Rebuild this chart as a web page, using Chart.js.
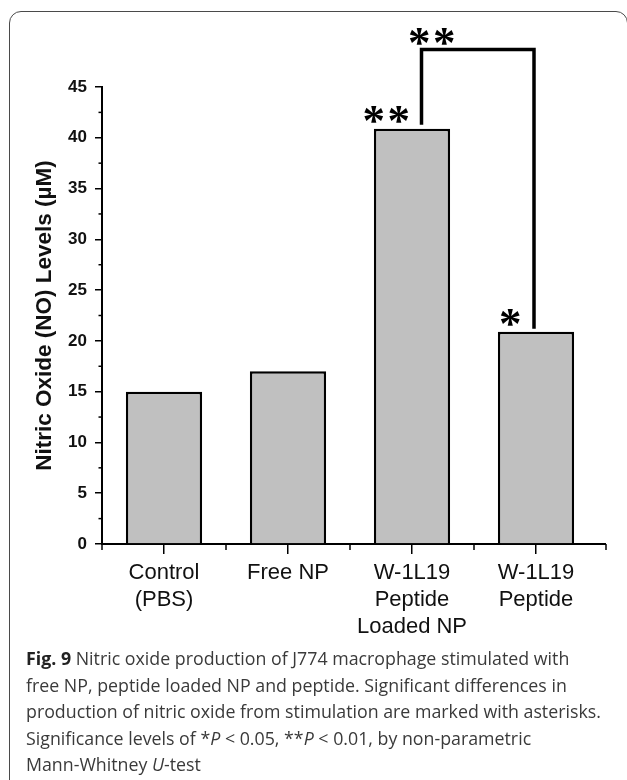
<!DOCTYPE html>
<html>
<head>
<meta charset="utf-8">
<script src="https://cdn.jsdelivr.net/npm/chart.js@4/dist/chart.umd.min.js"></script>
<style>
  html, body { margin: 0; padding: 0; background: #fff; }
  body { width: 627px; height: 780px; position: relative; overflow: hidden; }
  .frame {
    position: absolute; left: 9px; top: 11px; width: 619px; height: 820px;
    border: 1.5px solid #4a4a4a; border-radius: 12px; box-sizing: border-box;
  }
  .chart-box { position: absolute; left: 0; top: 0; width: 627px; height: 780px; }
  .caption {
    position: absolute; left: 26px; top: 645px;
    font-family: 'Open Sans', sans-serif; font-size: 17.8px; line-height: 26.5px;
    color: #3a3a3a; white-space: nowrap;
  }
  .caption b { color: #222; }
</style>
</head>
<body>
<div class="frame"></div>
<div class="chart-box"><canvas id="barChart"></canvas></div>
<div class="caption">
  <b>Fig. 9</b> Nitric oxide production of J774 macrophage stimulated with<br>
  free NP, peptide loaded NP and peptide. Significant differences in<br>
  production of nitric oxide from stimulation are marked with asterisks.<br>
  Significance levels of *<i>P</i> &lt; 0.05, **<i>P</i> &lt; 0.01, by non-parametric<br>
  Mann-Whitney <i>U</i>-test
</div>
<script>
const categories = [['Control', '(PBS)'], 'Free NP', ['W-1L19', 'Peptide', 'Loaded NP'], ['W-1L19', 'Peptide']];
const noLevels = [15, 17, 40.9, 20.9];
const yTicks = [0, 5, 10, 15, 20, 25, 30, 35, 40, 45];
const barStars = ['', '', '**', '*'];
const bracket = { from: 2, to: 3, level: 48.7, stars: '**' };

Chart.defaults.font.family = "'Liberation Sans', Arial, sans-serif";
Chart.defaults.color = '#111';

// draws one asterisk glyph centred on (cx, cy)
const drawStar = (ctx, cx, cy) => {
  ctx.font = "bold 40px 'Liberation Serif', serif";
  const m = ctx.measureText('*');
  const gh = m.actualBoundingBoxAscent + m.actualBoundingBoxDescent;
  const size = 40 * 18 / gh;
  ctx.font = `bold ${size}px 'Liberation Serif', serif`;
  const m2 = ctx.measureText('*');
  const gx = cx - (m2.actualBoundingBoxRight - m2.actualBoundingBoxLeft) / 2 + m2.actualBoundingBoxLeft;
  const gy = cy + (m2.actualBoundingBoxAscent - m2.actualBoundingBoxDescent) / 2;
  ctx.textAlign = 'left';
  ctx.textBaseline = 'alphabetic';
  ctx.fillText('*', gx, gy);
};

const drawStars = (ctx, text, cx, cy) => {
  const gap = 25;
  const start = cx - (text.length - 1) * gap / 2;
  for (let i = 0; i < text.length; i++) drawStar(ctx, start + i * gap, cy);
};

const extras = {
  id: 'extras',
  afterDraw(chart) {
    const { ctx, chartArea, scales: { x, y } } = chart;
    ctx.save();
    ctx.strokeStyle = '#000';
    ctx.fillStyle = '#000';
    ctx.lineWidth = 1.5;
    const line = (x1, y1, x2, y2) => { ctx.beginPath(); ctx.moveTo(x1, y1); ctx.lineTo(x2, y2); ctx.stroke(); };

    // minor y ticks
    for (let v = 2.5; v < 45; v += 5) {
      const py = y.getPixelForValue(v);
      line(chartArea.left - 3.5, py, chartArea.left, py);
    }
    // x axis runs a little past the last category
    const axisEnd = chartArea.right + 8;
    ctx.lineWidth = 2;
    line(chartArea.right, chartArea.bottom, axisEnd, chartArea.bottom);
    ctx.lineWidth = 1.5;
    const w = x.width / categories.length;
    for (let i = 0; i < categories.length; i++) {
      const px = x.left + i * w;
      line(px, chartArea.bottom, px, chartArea.bottom + 6);
    }
    line(axisEnd, chartArea.bottom, axisEnd, chartArea.bottom + 6);

    // significance stars on bars
    const meta = chart.getDatasetMeta(0);
    barStars.forEach((s, i) => {
      if (!s) return;
      const bar = meta.data[i];
      drawStars(ctx, s, bar.x - 25, bar.y - 14);
    });

    // bracket between two groups
    const a = meta.data[bracket.from];
    const b = meta.data[bracket.to];
    const lx = a.x + 9.5;
    const rx = b.x - 2;
    const ty = y.getPixelForValue(bracket.level);
    ctx.lineWidth = 3.5;
    ctx.lineJoin = 'miter';
    ctx.beginPath();
    ctx.moveTo(lx, a.y - 4);
    ctx.lineTo(lx, ty);
    ctx.lineTo(rx, ty);
    ctx.lineTo(rx, b.y - 3);
    ctx.stroke();
    drawStars(ctx, bracket.stars, lx + 11, ty - 13);
    ctx.restore();
  }
};

new Chart(document.getElementById('barChart'), {
  type: 'bar',
  data: {
    labels: categories,
    datasets: [{
      data: noLevels,
      backgroundColor: '#c0c0c0',
      borderColor: '#000',
      borderWidth: 2.5,
      barPercentage: 1,
      categoryPercentage: 0.615
    }]
  },
  options: {
    responsive: true,
    maintainAspectRatio: false,
    animation: false,
    layout: {
      padding: { left: 27, top: 87, right: 29, bottom: 136 }
    },
    plugins: {
      legend: { display: false },
      tooltip: { enabled: false }
    },
    scales: {
      x: {
        afterFit: (scale) => { scale.height = 100; },
        grid: {
          offset: false,
          drawOnChartArea: false,
          tickLength: 10,
          color: '#000',
          lineWidth: 1.5
        },
        border: { display: true, color: '#000', width: 2 },
        ticks: {
          padding: 5,
          maxRotation: 0,
          autoSkip: false,
          color: '#111',
          font: { size: 22, lineHeight: 1.23 }
        }
      },
      y: {
        min: yTicks[0],
        max: yTicks[yTicks.length - 1],
        afterFit: (scale) => { scale.width = 75; },
        afterBuildTicks: (scale) => { scale.ticks = yTicks.map((v) => ({ value: v })); },
        grid: {
          drawOnChartArea: false,
          tickLength: 7,
          color: '#000',
          lineWidth: 1.5
        },
        border: { display: true, color: '#000', width: 2 },
        ticks: {
          padding: 8,
          color: '#111',
          font: { size: 17, weight: 'bold' }
        },
        title: {
          display: true,
          text: 'Nitric Oxide (NO) Levels (µM)',
          color: '#111',
          font: { size: 22.5, weight: 'bold' }
        }
      }
    }
  },
  plugins: [extras]
});
</script>
</body>
</html>
